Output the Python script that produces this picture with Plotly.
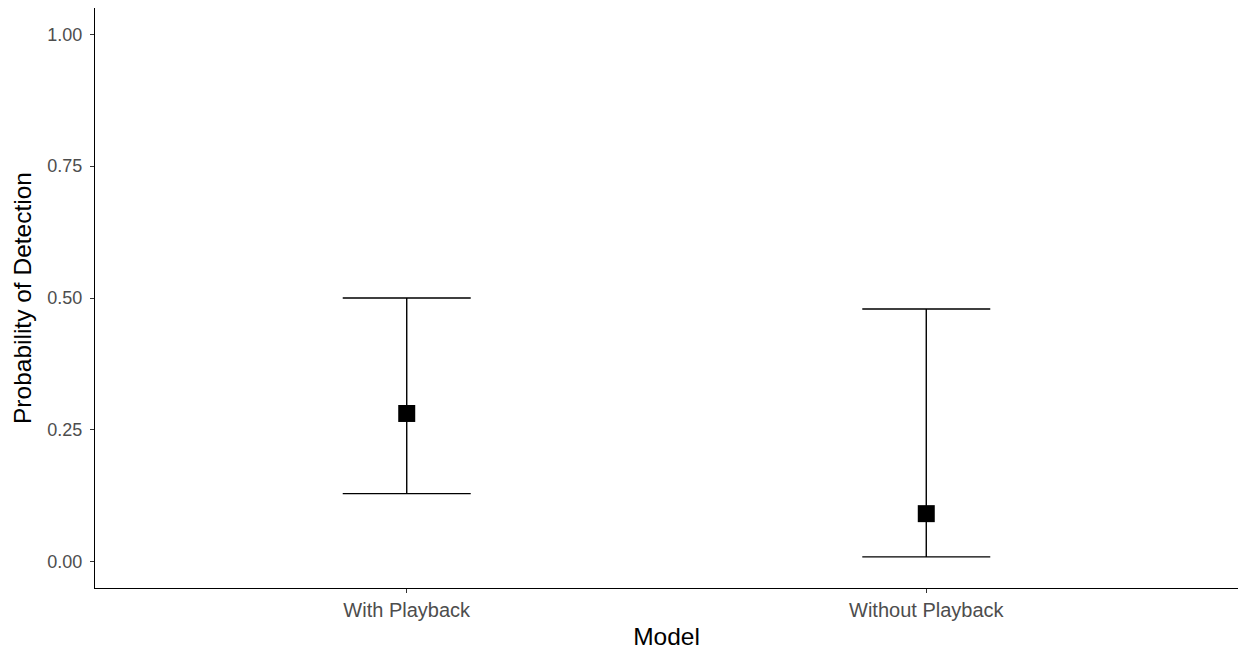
import plotly.graph_objects as go

models = ["With Playback", "Without Playback"]
estimate = [0.281, 0.091]
lower = [0.129, 0.009]
upper = [0.500, 0.479]
y_ticks = [0.00, 0.25, 0.50, 0.75, 1.00]
y_tick_labels = ["0.00", "0.25", "0.50", "0.75", "1.00"]

xpos = list(range(len(models)))
err_plus = [u - e for u, e in zip(upper, estimate)]
err_minus = [e - l for e, l in zip(estimate, lower)]

fig = go.Figure()
fig.add_trace(go.Scatter(
    x=xpos, y=estimate, mode="markers",
    marker=dict(symbol="square", size=17, color="black", line=dict(width=0)),
    error_y=dict(type="data", symmetric=False, array=err_plus, arrayminus=err_minus,
                 color="black", thickness=1.4, width=64),
    showlegend=False,
))

fig.update_layout(
    width=1238, height=650,
    margin=dict(l=95, r=0, t=8, b=62),
    paper_bgcolor="white", plot_bgcolor="white",
    font=dict(family="Liberation Sans, Arial, sans-serif", color="black"),
    xaxis=dict(
        range=[-0.6, 1.6], tickvals=xpos, ticktext=models,
        showline=True, linecolor="black", linewidth=1.3,
        ticks="outside", ticklen=4, tickcolor="#333333", tickwidth=1,
        ticklabelstandoff=0,
        showgrid=False, zeroline=False,
        tickfont=dict(size=20, color="#4D4D4D"),
        title=dict(text="Model", font=dict(size=24.5, color="black"), standoff=9),
    ),
    yaxis=dict(
        range=[-0.05, 1.05], tickvals=y_ticks, ticktext=y_tick_labels,
        showline=True, linecolor="black", linewidth=1.3,
        ticks="outside", ticklen=4, tickcolor="#333333", tickwidth=1,
        ticklabelstandoff=4,
        showgrid=False, zeroline=False,
        tickfont=dict(size=18, color="#4D4D4D"),
        title=dict(text="Probability of Detection", font=dict(size=24.5, color="black"), standoff=8),
    ),
)

fig.write_html(
    "out.html",
    config={"displayModeBar": False},
    post_script="document.body.style.margin='0';document.documentElement.style.overflow='hidden';",
)
